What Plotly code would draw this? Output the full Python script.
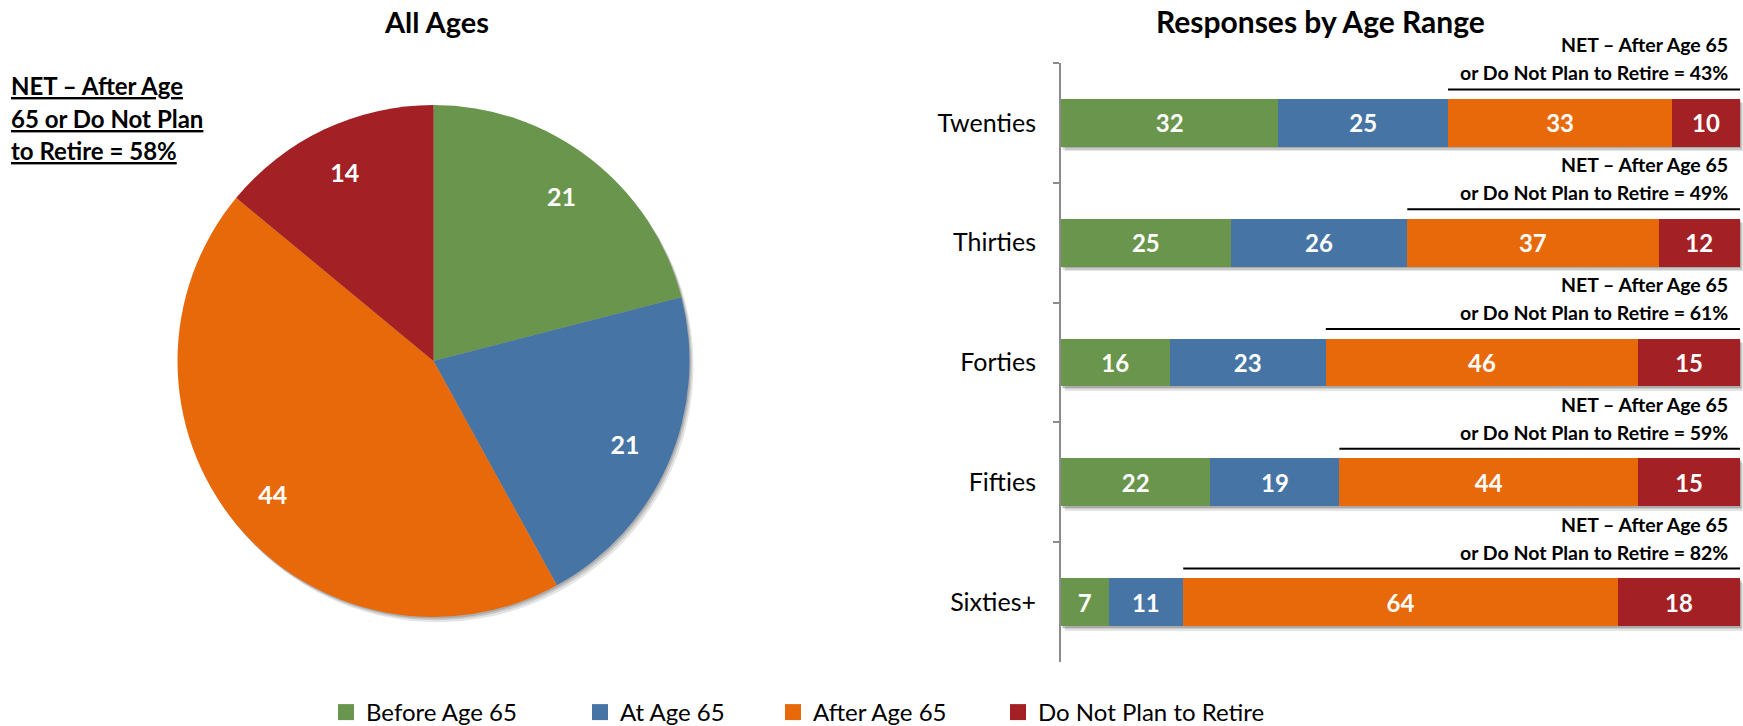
import plotly.graph_objects as go

# ---------------- data ----------------
categories = ["Twenties", "Thirties", "Forties", "Fifties", "Sixties+"]
series_names = ["Before Age 65", "At Age 65", "After Age 65", "Do Not Plan to Retire"]
before_65 = [32, 25, 16, 22, 7]
at_65 = [25, 26, 23, 19, 11]
after_65 = [33, 37, 46, 44, 64]
not_retire = [10, 12, 15, 15, 18]
all_ages = [21, 21, 44, 14]  # Before, At, After, Do Not Plan

colors = ["#6A954C", "#4674A5", "#E8690A", "#A32125"]

W, H = 1743, 726
FONT = "Lato"
series = [before_65, at_65, after_65, not_retire]

# ---------------- layout helpers ----------------
def px_x(p):
    return p / W

def px_y(p):  # from top, in px -> paper
    return 1 - p / H

# pie geometry (px)
PC_X, PC_Y, PR = 433.5, 361.0, 256.0
pie_dom = dict(x=[px_x(PC_X - PR), px_x(PC_X + PR)], y=[px_y(PC_Y + PR), px_y(PC_Y - PR)])

# bar plot area (px)
BX0, BX100, BTOP, BBOT = 1061.0, 1740.0, 63.0, 662.0
xr = [0, 100 * (W - BX0) / (BX100 - BX0)]
xdom = [px_x(BX0), 1.0]
ydom = [px_y(BBOT), px_y(BTOP)]
cat_px = (BBOT - BTOP) / len(categories)

# legend entry left positions (px)
legend_x = [326, 580, 773, 998]

fig = go.Figure()

# pie shadow
for off, a in [(4, 0.10), (2.5, 0.12), (1.2, 0.15)]:
    fig.add_trace(go.Pie(
        values=[sum(all_ages)], labels=["shadow"], sort=False,
        domain=dict(x=[px_x(PC_X - PR + off), px_x(PC_X + PR + off)],
                    y=[px_y(PC_Y + PR + off * 1.3), px_y(PC_Y - PR + off * 1.3)]),
        marker=dict(colors=[f"rgba(0,0,0,{a})"], line=dict(width=0)),
        textinfo="none", hoverinfo="skip", showlegend=False,
    ))

# main pie
fig.add_trace(go.Pie(
    values=all_ages, labels=series_names, sort=False, direction="clockwise",
    rotation=0, domain=pie_dom,
    marker=dict(colors=colors, line=dict(width=0)),
    textinfo="none", showlegend=False,
))
# label overlay (transparent ring) to place values near the rim
fig.add_trace(go.Pie(
    values=all_ages, labels=series_names, sort=False, direction="clockwise",
    rotation=0, domain=pie_dom, hole=0.63,
    marker=dict(colors=["rgba(0,0,0,0)"] * 4, line=dict(width=0)),
    texttemplate="<b>%{value}</b>", textposition="inside",
    insidetextorientation="horizontal",
    textfont=dict(family=FONT, size=25, color="white"),
    hoverinfo="skip", showlegend=False,
))

# bar shadows (base subplot)
totals = [sum(v) for v in zip(*series)]
for off, a in [(4.5, 0.10), (3.0, 0.12), (1.5, 0.15)]:
    fig.add_trace(go.Bar(
        y=categories, x=totals, orientation="h",
        base=[off * (xr[1] - xr[0]) / (W - BX0) * 0.8] * len(categories),
        width=0.4, offset=-0.2 + off / cat_px,
        marker=dict(color=f"rgba(0,0,0,{a})", line=dict(width=0)),
        xaxis="x", yaxis="y", hoverinfo="skip", showlegend=False,
    ))

# real bars (overlay subplot)
for name, vals, col in zip(series_names, series, colors):
    fig.add_trace(go.Bar(
        y=categories, x=vals, orientation="h", name=name,
        marker=dict(color=col, line=dict(width=0)),
        texttemplate="<b>%{x}</b>", textposition="inside",
        insidetextanchor="middle", textangle=0,
        textfont=dict(family=FONT, size=24, color="white"),
        xaxis="x2", yaxis="y2", showlegend=False, width=0.4,
    ))

# legend entries (one small legend per entry so spacing can follow the reference)
legend_ids = ["legend", "legend2", "legend3", "legend4"]
for name, col, lid in zip(series_names, colors, legend_ids):
    fig.add_trace(go.Scatter(
        x=[None], y=[None], mode="markers", name=name, legend=lid,
        marker=dict(symbol="square", size=16, color=col),
        xaxis="x2", yaxis="y2", showlegend=True,
    ))

annotations = []
shapes = []
# titles
annotations.append(dict(text="<b>All Ages</b>", x=px_x(436.5), y=px_y(21), xref="paper", yref="paper",
                        showarrow=False, font=dict(family=FONT, size=29, color="black"),
                        xanchor="center", yanchor="middle"))
annotations.append(dict(text="<b>Responses by Age Range</b>", x=px_x(1320), y=px_y(21), xref="paper", yref="paper",
                        showarrow=False, font=dict(family=FONT, size=30, color="black"),
                        xanchor="center", yanchor="middle"))

# top-left NET note
pie_net = all_ages[2] + all_ages[3]
for txt, yy in zip(["NET – After Age", "65 or Do Not Plan", f"to Retire = {pie_net}%"], [86, 119, 151]):
    annotations.append(dict(text=f"<b>{txt}</b>", x=px_x(9), y=px_y(yy), xref="paper", yref="paper",
                            showarrow=False, xanchor="left", yanchor="middle",
                            font=dict(family=FONT, size=24, color="black", lineposition="under")))

# per-row NET notes
for i, cat in enumerate(categories):
    net = after_65[i] + not_retire[i]
    for txt, sh in [("NET – After Age 65", 78), (f"or Do Not Plan to Retire = {net}%", 50)]:
        annotations.append(dict(text=f"<b>{txt}</b>", x=100, y=cat, xref="x", yref="y",
                                xanchor="right", yanchor="middle", xshift=-10, yshift=sh,
                                showarrow=False, font=dict(family=FONT, size=19.5, color="black")))
    shapes.append(dict(type="line", xref="x", yref="y",
                       x0=before_65[i] + at_65[i], x1=100,
                       y0=i - 33.5 / cat_px, y1=i - 33.5 / cat_px,
                       line=dict(color="black", width=2)))

legend_common = dict(orientation="h", xanchor="left", y=-9 / H, yanchor="bottom",
                     font=dict(family=FONT, size=24, color="black"),
                     bgcolor="rgba(0,0,0,0)", itemclick=False, itemdoubleclick=False)

layout_legends = {lid: dict(legend_common, x=px_x(lx)) for lid, lx in zip(legend_ids, legend_x)}

fig.update_layout(
    width=W, height=H, margin=dict(l=0, r=0, t=0, b=0, autoexpand=False),
    paper_bgcolor="white", plot_bgcolor="rgba(0,0,0,0)",
    barmode="stack", bargap=0.6,
    font=dict(family=FONT, color="black"),
    xaxis=dict(domain=xdom, range=xr, visible=False, fixedrange=True),
    yaxis=dict(domain=ydom, type="category", categoryarray=categories, categoryorder="array",
               range=[len(categories) - 0.5, -0.5],
               showline=True, linecolor="#8C8C8C", linewidth=2,
               ticks="outside", tickson="boundaries", ticklen=6, tickcolor="#8C8C8C", tickwidth=2,
               showgrid=False, zeroline=False, ticklabelstandoff=18,
               tickfont=dict(family=FONT, size=25, color="black")),
    xaxis2=dict(domain=xdom, range=xr, visible=False, overlaying="x", fixedrange=True, anchor="y2"),
    yaxis2=dict(domain=ydom, type="category", categoryarray=categories, categoryorder="array",
                range=[len(categories) - 0.5, -0.5], visible=False, overlaying="y", anchor="x2"),
    annotations=annotations, shapes=shapes,
    showlegend=True,
    **layout_legends,
)

fig.write_html("out.html", config={"displayModeBar": False},
               post_script="document.body.style.margin='0';document.body.style.overflow='hidden';")
